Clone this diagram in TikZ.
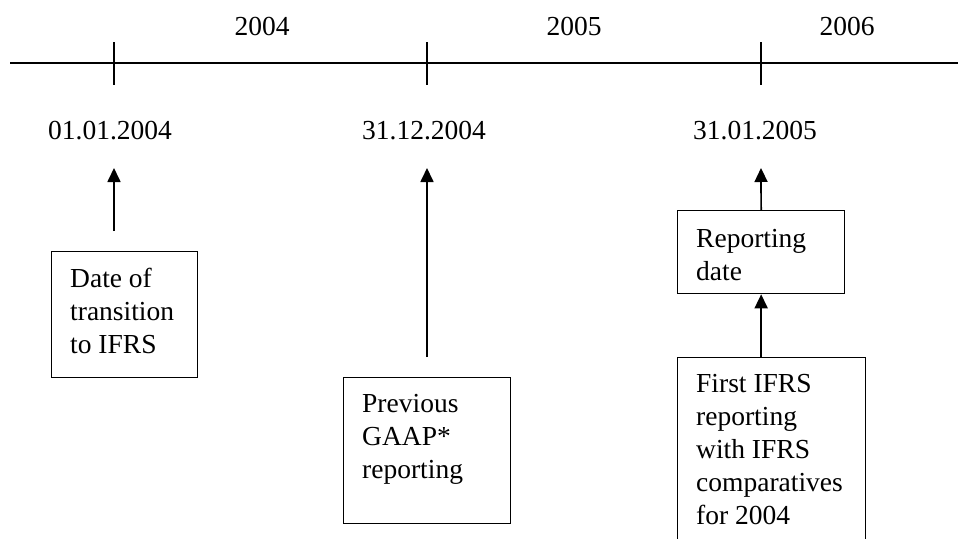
\documentclass[tikz,border=0pt]{standalone}
\usepackage{fontspec}
\setmainfont{Liberation Serif}
\usetikzlibrary{arrows.meta}
\begin{document}
\begin{tikzpicture}[x=1pt,y=-1pt,
  lbl/.style={inner sep=0pt, font=\fontsize{27.5}{33}\selectfont},
  boxtxt/.style={lbl, anchor=base west},
  frame/.style={draw, line width=1.3pt, inner sep=0pt, anchor=north west},
  axis/.style={line width=1.3pt},
  arr/.style={line width=1.7pt, -{Triangle[width=13pt,length=14pt]}}]
\useasboundingbox (0,0) rectangle (958,538);
\clip (0,0) rectangle (958,538);

% time axis
\coordinate (axL) at (10,63);
\coordinate (axR) at (958,63);
\draw[axis] (axL) -- (axR);
\foreach \x/\n in {114/1,427/2,761/3}{
  \coordinate (tickT\n) at (\x,42);
  \coordinate (tickB\n) at (\x,85);
  \draw[axis] (tickT\n) -- (tickB\n);
}

% year labels
\node[lbl, anchor=base] (y2004) at (262,35) {2004};
\node[lbl, anchor=base] (y2005) at (574,35) {2005};
\node[lbl, anchor=base] (y2006) at (847,35) {2006};

% dates
\node[lbl, anchor=base] (d1) at (110,139) {01.01.2004};
\node[lbl, anchor=base] (d2) at (424,139) {31.12.2004};
\node[lbl, anchor=base] (d3) at (755,139) {31.01.2005};

% boxes
\node[frame, minimum width=146pt, minimum height=126pt] (b1) at (51,251) {};
\node[frame, minimum width=167pt, minimum height=146pt] (b2) at (343,377) {};
\node[frame, minimum width=167pt, minimum height=83pt] (b3) at (677,210) {};
\node[frame, minimum width=188pt, minimum height=200pt] (b4) at (677,357) {};

\node[boxtxt] (t1) at ([shift={(19,36)}]b1.north west)
  {\begin{tabular}[t]{@{}l@{}}Date of\\transition\\to IFRS\end{tabular}};
\node[boxtxt] (t2) at ([shift={(19,35)}]b2.north west)
  {\begin{tabular}[t]{@{}l@{}}Previous\\GAAP*\\reporting\end{tabular}};
\node[boxtxt] (t3) at ([shift={(19,37)}]b3.north west)
  {\begin{tabular}[t]{@{}l@{}}Reporting\\date\end{tabular}};
\node[boxtxt] (t4) at ([shift={(19,35)}]b4.north west)
  {\begin{tabular}[t]{@{}l@{}}First IFRS\\reporting\\with IFRS\\comparatives\\for 2004\end{tabular}};

% arrows
\coordinate (a1s) at (114,231);
\coordinate (a1e) at (114,168);
\coordinate (a2s) at (427,357);
\coordinate (a2e) at (427,168);
\coordinate (a3e) at (761,168);
\draw[arr] (a1s) -- (a1e);
\draw[arr] (a2s) -- (a2e);
\draw[arr] (b3.north) -- (a3e);
\draw[arr] (b4.north -| b3.north) -- (b3.south);
\end{tikzpicture}
\end{document}
